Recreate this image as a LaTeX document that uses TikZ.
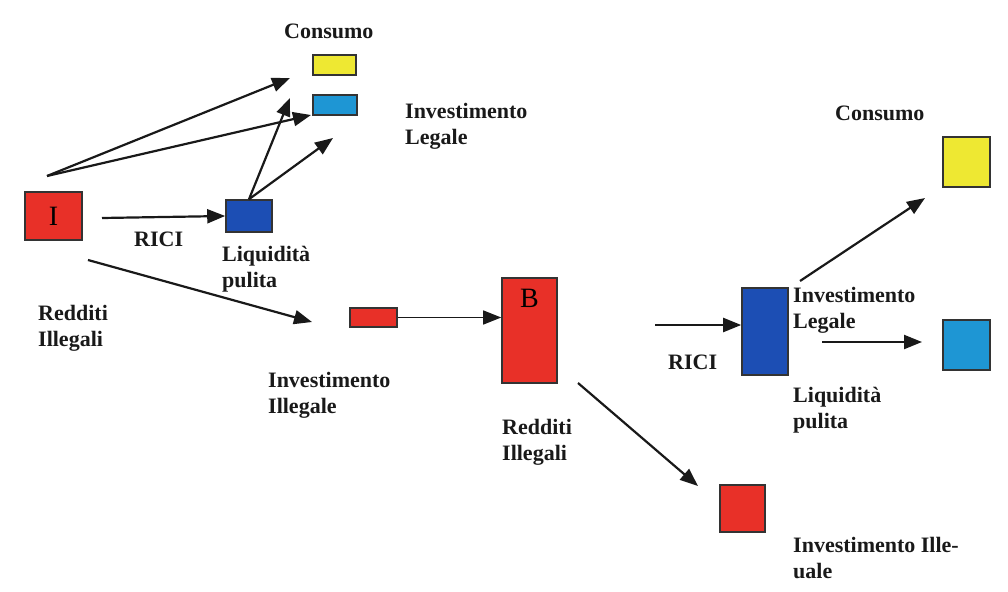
\documentclass[tikz,border=0pt]{standalone}
\usepackage{fontspec}
\setmainfont{Liberation Serif}
\usetikzlibrary{arrows.meta}
\definecolor{rred}{RGB}{232,48,40}
\definecolor{ryel}{RGB}{238,232,50}
\definecolor{rcyan}{RGB}{30,150,212}
\definecolor{rblue}{RGB}{28,78,180}
\tikzset{
  box/.style={draw=black!80, line width=1.6pt, inner sep=0pt, font=\fontsize{28}{28}\selectfont},
  lbl/.style={anchor=north west, align=left, inner sep=0pt, font=\bfseries\fontsize{22}{26}\selectfont, text=black!90},
  arr/.style={line width=2.2pt, black!90, -{Triangle[length=18pt,width=14pt]}},
  thinarr/.style={line width=1.4pt, black!90, -{Triangle[length=18pt,width=14pt]}}
}
\begin{document}
\begin{tikzpicture}[x=1pt,y=-1pt]
\useasboundingbox (0,0) rectangle (1008,591);
% boxes
\node[box, fill=ryel, minimum width=43pt, minimum height=20pt] (c1) at (334.5,65) {};
\node[box, fill=rcyan, minimum width=44pt, minimum height=20pt] (l1) at (335,105) {};
\node[box, fill=rred, minimum width=57pt, minimum height=48pt] (I) at (53.5,216) {I};
\node[box, fill=rblue, minimum width=46pt, minimum height=32pt] (q1) at (249,216) {};
\node[box, fill=rred, minimum width=47pt, minimum height=19pt] (ii1) at (373.5,317.5) {};
\node[box, fill=rred, minimum width=55pt, minimum height=105pt] (B) at (529.5,330.5) {};
\node[font=\fontsize{28}{28}\selectfont] (Bt) at (529.5,298) {B};
\node[box, fill=rblue, minimum width=46pt, minimum height=87pt] (q2) at (765,331.5) {};
\node[box, fill=ryel, minimum width=47pt, minimum height=50pt] (c2) at (966.5,162) {};
\node[box, fill=rcyan, minimum width=47pt, minimum height=50pt] (l2) at (966.5,345) {};
\node[box, fill=rred, minimum width=45pt, minimum height=47pt] (ii2) at (742.5,508.5) {};
% labels
\node[lbl] (tc1) at (284,24) {Consumo};
\node[lbl] (tl1) at (405,103) {Investimento\\Legale};
\node[lbl] (tr1) at (134,232) {RICI};
\node[lbl] (tq1) at (222,246) {Liquidità\\pulita};
\node[lbl] (tri1) at (38,305) {Redditi\\Illegali};
\node[lbl] (tii1) at (268,372) {Investimento\\Illegale};
\node[lbl] (tri2) at (502,419) {Redditi\\Illegali};
\node[lbl] (tc2) at (835,106) {Consumo};
\node[lbl] (tl2) at (793,287) {Investimento\\Legale};
\node[lbl] (tr2) at (668,355) {RICI};
\node[lbl] (tq2) at (793,387) {Liquidità\\pulita};
\node[lbl] (tii2) at (793,537) {Investimento Ille-\\uale};
% free ends
\coordinate (s1) at (47,176);
\coordinate (e1) at (290,78);
\coordinate (e2) at (311,115);
\coordinate (e3) at (290,98);
\coordinate (e4) at (333,138);
\coordinate (s5) at (102,218);
\coordinate (s6) at (88,260);
\coordinate (e6) at (312,322);
\coordinate (s8) at (578,383);
\coordinate (e8) at (698,486);
\coordinate (s9) at (655,325);
\coordinate (s10) at (800,281);
\coordinate (e10) at (925,198);
\coordinate (s11) at (822,342);
\coordinate (e11) at (922,342);
% connectors
\draw[arr] (s1) -- (e1);
\draw[arr] (s1) -- (e2);
\draw[arr] (q1.north) -- (e3);
\draw[arr] (q1.north) -- (e4);
\draw[arr] (s5) -- (q1.west);
\draw[arr] (s6) -- (e6);
\draw[thinarr] (ii1.east) -- (B.west |- ii1.east);
\draw[arr] (s8) -- (e8);
\draw[arr] (s9) -- (q2.west |- s9);
\draw[arr] (s10) -- (e10);
\draw[arr] (s11) -- (e11);
\end{tikzpicture}
\end{document}
